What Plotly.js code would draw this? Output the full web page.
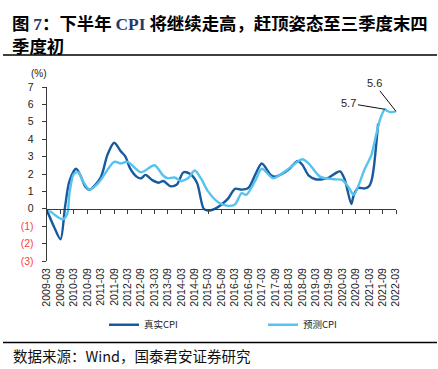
<!DOCTYPE html>
<html>
<head>
<meta charset="utf-8">
<script src="https://cdn.plot.ly/plotly-3.0.1.min.js"></script>
<style>html,body{margin:0;padding:0;background:#fff;}#chart{width:438px;height:369px;}</style>
</head>
<body>
<div id="chart"></div>
<script>
// Real CPI (真实CPI)
const realDates = ['2009-03','2009-06','2009-09','2009-11','2010-01','2010-04','2010-06','2010-08','2010-10','2011-03','2011-06','2011-09','2011-12','2012-02','2012-04','2012-07','2012-09','2012-11','2013-02','2013-05','2013-07','2013-10','2014-01','2014-04','2014-07','2014-10','2015-01','2015-03','2015-06','2015-09','2015-12','2016-03','2016-06','2016-09','2016-12','2017-03','2017-07','2017-09','2017-12','2018-03','2018-07','2018-09','2018-12','2019-03','2019-06','2019-09','2019-12','2020-02','2020-04','2020-07','2020-08','2020-10','2021-01','2021-03','2021-04','2021-05','2021-07'];
const realValues = [-0.1,-1.0,-1.75,0.1,1.6,2.3,1.9,1.3,1.1,1.8,3.1,3.8,3.3,3.0,2.35,1.85,1.75,1.95,1.65,1.5,1.6,1.3,1.4,2.1,2.0,1.5,0.0,-0.1,0.0,0.25,0.6,1.15,1.1,1.2,1.95,2.6,1.95,1.85,2.0,2.25,2.75,2.55,1.9,1.7,1.7,1.8,2.05,2.15,1.7,0.28,0.75,1.2,1.17,1.3,1.6,2.3,4.9];

// Forecast CPI (预测CPI)
const predDates = ['2009-03','2009-05','2009-07','2009-10','2009-12','2010-01','2010-03','2010-05','2010-07','2010-10','2011-02','2011-09','2011-12','2012-03','2012-09','2013-03','2013-07','2013-09','2013-12','2014-03','2014-06','2014-09','2014-12','2015-03','2015-08','2015-12','2016-03','2016-06','2016-08','2016-12','2017-03','2017-08','2017-11','2018-03','2018-09','2018-12','2019-05','2019-11','2020-03','2020-06','2020-08','2021-01','2021-04','2021-06','2021-08','2021-10','2021-11','2022-01','2022-03'];
const predValues = [-0.1,-0.2,-0.4,-0.6,-0.3,0.9,2.0,2.1,1.6,1.1,1.5,2.7,2.6,2.7,2.1,2.5,1.9,1.75,1.8,1.6,1.75,2.2,1.7,1.0,0.33,0.17,0.25,0.9,0.8,1.6,2.3,1.75,1.95,2.3,2.85,2.6,1.85,1.7,1.65,1.2,0.8,2.3,3.1,4.2,5.2,5.72,5.62,5.55,5.6];

const yTickVals = [-3,-2,-1,0,1,2,3,4,5,6,7];
const yTickLabels = ['(3)','(2)','(1)','0','1','2','3','4','5','6','7'];
const seriesNames = ['真实CPI','预测CPI'];
const titleLines = ['图 <span style="color:#1F3A6E;font-family:\'Liberation Serif\'">7</span>：下半年 <span style="color:#1F3A6E;font-family:\'Liberation Serif\'">CPI</span> 将继续走高，赶顶姿态至三季度末四', '季度初'];
const sourceText = '数据来源：Wind，国泰君安证券研究';

const darkColor = '#175A9E';
const lightColor = '#55C3F0';
const axisColor = '#3a3a3a';

const yTickText = yTickVals.map((v,i)=> v<0 ? '<span style="color:#FF3B3B">'+yTickLabels[i]+'</span>' : yTickLabels[i]);

const xRange = ['2009-03-01','2022-03-01'];

const traces = [
  {x: realDates, y: realValues, name: seriesNames[0], type:'scatter', mode:'lines', legend:'legend',
   line:{color:darkColor, width:2.4, shape:'spline', smoothing:0.8}, hoverinfo:'skip'},
  {x: predDates, y: predValues, name: seriesNames[1], type:'scatter', mode:'lines', legend:'legend2',
   line:{color:lightColor, width:2.4, shape:'spline', smoothing:0.8}, hoverinfo:'skip'},
  {x: realDates, y: realValues, xaxis:'x2', yaxis:'y', type:'scatter', mode:'lines',
   line:{width:0}, opacity:0, showlegend:false, hoverinfo:'skip'}
];

const lastPredIdx = predValues.length-1;
const peakIdx = predValues.indexOf(Math.max(...predValues));

// pixel helpers for paper-coordinate placement (plot area: x 47..396, y 87..260.7)
const px = v => (v-47)/349;
const py = v => (260.7-v)/173.7;

const legendBase = {
  orientation:'h', xref:'container', xanchor:'left',
  yref:'container', y:1-324.7/369, yanchor:'middle', itemwidth:30,
  font:{size:9.5, color:'#222', family:'"Noto Sans CJK SC", sans-serif'},
  bgcolor:'rgba(0,0,0,0)'
};

const layout = {
  width:438, height:369,
  margin:{l:47, r:42, t:87, b:108},
  paper_bgcolor:'#fff', plot_bgcolor:'rgba(0,0,0,0)',
  font:{family:'Arial, "Liberation Sans", "Noto Sans CJK SC", sans-serif', size:10.5, color:'#222'},
  xaxis:{
    type:'date', range:xRange, tick0:'2009-03-01', dtick:'M6', tickformat:'%Y-%m',
    tickangle:-90, ticks:'', showline:false, showgrid:false, zeroline:false,
    tickfont:{size:10.5, color:'#222', family:'Arial, "Liberation Sans", sans-serif'},
    ticklabelstandoff:4
  },
  xaxis2:{
    type:'date', range:xRange, tick0:'2009-03-01', dtick:'M6', overlaying:'x',
    anchor:'free', position:0.3, showticklabels:false, ticks:'outside', ticklen:4,
    tickcolor:axisColor, tickwidth:1, showline:true, linecolor:axisColor, linewidth:1.4,
    showgrid:false, zeroline:false
  },
  yaxis:{
    range:[-3,7], tickvals:yTickVals, ticktext:yTickText, ticks:'outside', ticklen:4,
    tickcolor:axisColor, tickwidth:1, showline:true, linecolor:axisColor, linewidth:1.4,
    showgrid:false, zeroline:false, ticklabelstandoff:6,
    tickfont:{size:10.5, color:'#222', family:'Arial, "Liberation Sans", sans-serif'}
  },
  showlegend:true,
  legend:Object.assign({}, legendBase, {x:104/438}),
  legend2:Object.assign({}, legendBase, {x:263/438}),
  shapes:[
    {type:'line', xref:'paper', yref:'paper', x0:px(3), x1:px(437), y0:py(55), y1:py(55), line:{color:'#000', width:1.5}},
    {type:'line', xref:'paper', yref:'paper', x0:px(3), x1:px(437), y0:py(342), y1:py(342), line:{color:'#000', width:1.5}}
  ],
  annotations:[
    {text:'<b>'+titleLines[0]+'</b>', xref:'paper', yref:'paper', x:px(11), y:py(22.5), showarrow:false, borderpad:0,
     xanchor:'left', yanchor:'middle', font:{size:17.4, color:'#000', family:'"Noto Sans CJK SC", sans-serif'}},
    {text:'<b>'+titleLines[1]+'</b>', xref:'paper', yref:'paper', x:px(11), y:py(45.5), showarrow:false, borderpad:0,
     xanchor:'left', yanchor:'middle', font:{size:17.4, color:'#000', family:'"Noto Sans CJK SC", sans-serif'}},
    {text:'(%)', xref:'paper', yref:'paper', x:px(39), y:py(74), showarrow:false,
     font:{size:10, color:'#222'}, xanchor:'center', yanchor:'middle'},
    {text:sourceText, xref:'paper', yref:'paper', x:px(11), y:py(355),
     showarrow:false, xanchor:'left', yanchor:'middle',
     font:{size:14.5, color:'#111', family:'"Noto Sans CJK SC", sans-serif'}},
    {text:'5.7', x:predDates[peakIdx], y:predValues[peakIdx], xref:'x', yref:'y',
     showarrow:true, arrowhead:0, arrowwidth:1, arrowcolor:'#111', ax:-36, ay:-6, standoff:0,
     font:{size:11, color:'#222'}},
    {text:'5.6', x:predDates[lastPredIdx], y:predValues[lastPredIdx], xref:'x', yref:'y',
     showarrow:true, arrowhead:0, arrowwidth:1, arrowcolor:'#111', ax:-22, ay:-28, standoff:0,
     font:{size:11, color:'#222'}}
  ]
};

Plotly.newPlot('chart', traces, layout, {staticPlot:true, displayModeBar:false});
</script>
</body>
</html>
